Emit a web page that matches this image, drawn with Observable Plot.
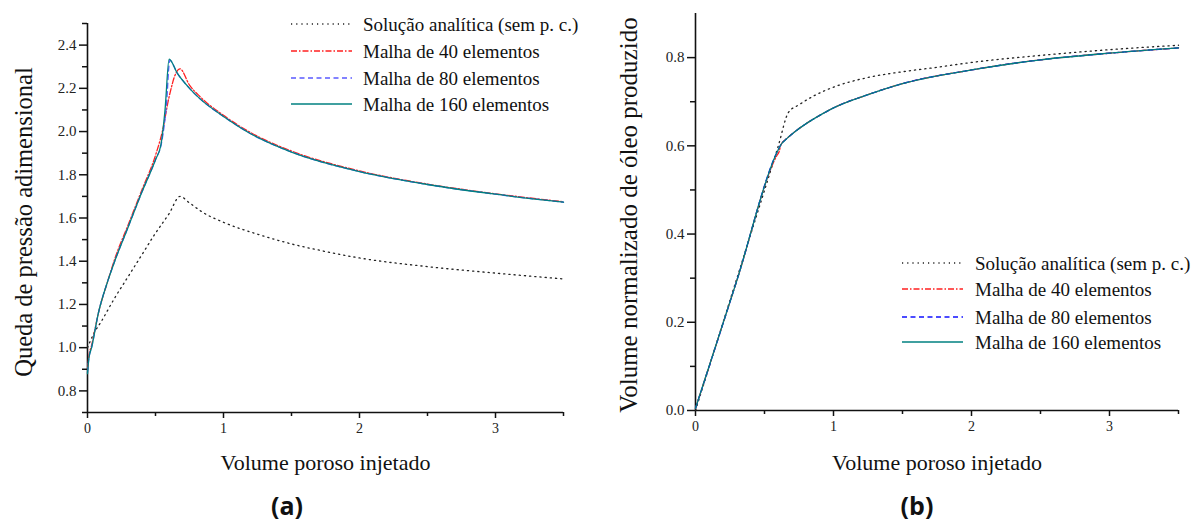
<!DOCTYPE html>
<html><head><meta charset="utf-8">
<script src="https://cdn.jsdelivr.net/npm/d3@7"></script>
<script src="https://cdn.jsdelivr.net/npm/@observablehq/plot@0.6"></script>
<style>
body{margin:0;background:#fff;}
#wrap{position:relative;width:1193px;height:526px;overflow:hidden;}
.panel{position:absolute;top:0;}
.cap{position:absolute;font-family:"Open Sans","Liberation Sans",sans-serif;font-weight:bold;font-size:25px;transform:translateX(-50%);top:488px;color:#111;}
</style></head><body><div id="wrap"></div>
<script>
// ---- series labels & styles ----
const seriesNames = ["Solução analítica (sem p. c.)", "Malha de 40 elementos", "Malha de 80 elementos", "Malha de 160 elementos"];
const seriesColorsA = ["#222222", "#ff2020", "#5a5aff", "#008080"];
const seriesColorsB = ["#222222", "#ff2020", "#1010ff", "#008080"];
const seriesDash = ["1.2,4", "6,2,1.5,2", "5,3.5", null];

// ---- axis ticks ----
const xMajor = [0, 1, 2, 3];
const xMinor = [0.5, 1.5, 2.5, 3.5];
const yMajorA = [0.8, 1.0, 1.2, 1.4, 1.6, 1.8, 2.0, 2.2, 2.4];
const yMinorA = [0.7, 0.9, 1.1, 1.3, 1.5, 1.7, 1.9, 2.1, 2.3, 2.5];
const yMajorB = [0.0, 0.2, 0.4, 0.6, 0.8];
const yMinorB = [0.1, 0.3, 0.5, 0.7];

// ---- (a) pressure drop ----
const pAnaX = [0, 0.05, 0.1, 0.2, 0.3, 0.4, 0.5, 0.6, 0.68, 0.75, 0.85, 1.0, 1.25, 1.5, 1.75, 2.0, 2.5, 3.0, 3.5];
const pAnaY = [1.0, 1.07, 1.12, 1.23, 1.33, 1.43, 1.53, 1.62, 1.70, 1.67, 1.625, 1.58, 1.525, 1.48, 1.445, 1.415, 1.375, 1.345, 1.318];
const p40X = [0, 0.01, 0.03, 0.08, 0.15, 0.2, 0.3, 0.4, 0.5, 0.55, 0.6, 0.65, 0.68, 0.75, 0.83, 1.0, 1.2, 1.5, 2.0, 2.5, 3.0, 3.5];
const p40Y = [0.9, 0.96, 1.01, 1.16, 1.31, 1.41, 1.57, 1.73, 1.89, 2.0, 2.16, 2.27, 2.29, 2.215, 2.16, 2.075, 1.995, 1.91, 1.818, 1.757, 1.712, 1.675];
const p80X = [0, 0.01, 0.03, 0.08, 0.15, 0.2, 0.3, 0.4, 0.5, 0.545, 0.58, 0.605, 0.66, 0.75, 0.83, 1.0, 1.2, 1.5, 2.0, 2.5, 3.0, 3.5];
const p80Y = [0.885, 0.95, 1.0, 1.16, 1.31, 1.4, 1.56, 1.72, 1.87, 1.95, 2.12, 2.33, 2.27, 2.2, 2.15, 2.07, 1.99, 1.905, 1.815, 1.755, 1.71, 1.673];
const p160X = [0, 0.01, 0.03, 0.08, 0.15, 0.2, 0.3, 0.4, 0.5, 0.54, 0.57, 0.6, 0.66, 0.75, 0.83, 1.0, 1.2, 1.5, 2.0, 2.5, 3.0, 3.5];
const p160Y = [0.88, 0.95, 1.0, 1.16, 1.31, 1.4, 1.56, 1.72, 1.87, 1.94, 2.1, 2.335, 2.27, 2.2, 2.15, 2.07, 1.99, 1.905, 1.815, 1.755, 1.71, 1.673];

// ---- (b) normalized oil produced ----
const oAnaX = [0, 0.3, 0.6, 0.674, 0.75, 0.85, 1.0, 1.25, 1.5, 1.75, 2.0, 2.5, 3.0, 3.5];
const oAnaY = [0, 0.3, 0.6, 0.676, 0.693, 0.712, 0.733, 0.755, 0.768, 0.778, 0.789, 0.805, 0.818, 0.828];
const o40X = [0, 0.3, 0.59, 0.605, 0.62, 0.667, 0.72, 0.81, 0.9, 1.0, 1.25, 1.5, 2.0, 2.5, 3.0, 3.5];
const o40Y = [0.005, 0.295, 0.578, 0.586, 0.603, 0.618, 0.632, 0.652, 0.669, 0.686, 0.716, 0.741, 0.772, 0.795, 0.81, 0.822];
const o80X = [0, 0.3, 0.59, 0.62, 0.667, 0.72, 0.81, 0.9, 1.0, 1.25, 1.5, 2.0, 2.5, 3.0, 3.5];
const o80Y = [0.005, 0.295, 0.585, 0.603, 0.618, 0.632, 0.652, 0.669, 0.686, 0.716, 0.741, 0.772, 0.795, 0.81, 0.822];
const o160X = [0, 0.3, 0.59, 0.62, 0.667, 0.72, 0.81, 0.9, 1.0, 1.25, 1.5, 2.0, 2.5, 3.0, 3.5];
const o160Y = [0.005, 0.295, 0.585, 0.603, 0.618, 0.632, 0.652, 0.669, 0.686, 0.716, 0.741, 0.772, 0.795, 0.81, 0.822];

const rows = (xs, ys) => xs.map((x, i) => ({x, y: ys[i]}));
const serif = "'Liberation Serif', 'DejaVu Serif', serif";

function panel(opts) {
  const {width, height, mL, mR, mT, mB, yDomain, yMajor, yMinor, series, colors, xTitle, yTitle, xTitleDy, yTitleDx, yTitleDy, yTitleSize, legend} = opts;
  const lines = series.map((s, i) => Plot.line(s, {
    x: "x", y: "y", stroke: colors[i], strokeWidth: 1.3,
    strokeDasharray: seriesDash[i] || undefined, curve: "monotone-x"
  }));
  const svg = Plot.plot({
    width, height, marginLeft: mL, marginRight: mR, marginTop: mT, marginBottom: mB,
    style: {fontFamily: serif, background: "#fff", color: "#222", overflow: "visible"},
    x: {domain: [0, 3.5]},
    y: {domain: yDomain},
    marks: [
      Plot.axisX({ticks: xMinor, tickSize: 4, tickFormat: () => "", label: null, strokeWidth: 1.5, stroke: "#111"}),
      Plot.axisX({ticks: xMajor, tickSize: 6, tickPadding: 5, fontSize: 14, tickFormat: d => String(d), label: null, strokeWidth: 1.5, stroke: "#111", fill: "#222"}),
      Plot.axisY({ticks: yMinor, tickSize: 5, tickFormat: () => "", label: null, strokeWidth: 1.5, stroke: "#111"}),
      Plot.axisY({ticks: yMajor, tickSize: 8, tickPadding: 3, fontSize: 15, tickFormat: d3.format(".1f"), label: null, strokeWidth: 1.5, stroke: "#111", fill: "#222"}),
      Plot.ruleX([0], {stroke: "#111", strokeWidth: 1.6}),
      Plot.ruleY([yDomain[0]], {stroke: "#111", strokeWidth: 1.6}),
      ...lines,
      Plot.text([xTitle], {text: d => d, frameAnchor: "bottom", dy: xTitleDy, fontSize: 22, lineAnchor: "middle", fill: "#111"}),
      Plot.text([yTitle], {text: d => d, frameAnchor: "left", rotate: -90, dx: yTitleDx, dy: yTitleDy, fontSize: yTitleSize, lineAnchor: "middle", textAnchor: "middle", fill: "#111"})
    ]
  });
  // legend
  const g = d3.select(svg).append("g").attr("font-family", serif).attr("font-size", 19).attr("text-anchor", "start");
  seriesNames.forEach((name, i) => {
    const yy = legend.rows[i];
    g.append("line").attr("x1", legend.x1).attr("x2", legend.x2).attr("y1", yy).attr("y2", yy)
      .attr("stroke", colors[i]).attr("stroke-width", 1.3)
      .attr("stroke-dasharray", seriesDash[i]);
    g.append("text").attr("x", legend.tx).attr("y", yy).attr("dy", "0.35em").attr("text-anchor", "start").attr("fill", "#111").text(name);
  });
  return svg;
}

const wrap = document.getElementById("wrap");

const svgA = panel({
  width: 596, height: 480, mL: 87, mR: 33, mT: 23, mB: 68,
  yDomain: [0.7, 2.5], yMajor: yMajorA, yMinor: yMinorA,
  series: [rows(pAnaX, pAnaY), rows(p40X, p40Y), rows(p80X, p80Y), rows(p160X, p160Y)],
  colors: seriesColorsA,
  xTitle: "Volume poroso injetado", yTitle: "Queda de pressão adimensional",
  xTitleDy: 50, yTitleDx: -63, yTitleDy: 4, yTitleSize: 24.5,
  legend: {x1: 291, x2: 352, tx: 363, rows: [24, 51, 78, 104]}
});
const dA = document.createElement("div"); dA.className = "panel"; dA.style.left = "0px"; dA.appendChild(svgA); wrap.appendChild(dA);

const svgB = panel({
  width: 597, height: 480, mL: 99, mR: 15, mT: 13, mB: 70,
  yDomain: [0, 0.9], yMajor: yMajorB, yMinor: yMinorB,
  series: [rows(oAnaX, oAnaY), rows(o40X, o40Y), rows(o80X, o80Y), rows(o160X, o160Y)],
  colors: seriesColorsB,
  xTitle: "Volume poroso injetado", yTitle: "Volume normalizado de óleo produzido",
  xTitleDy: 52, yTitleDx: -67, yTitleDy: 3, yTitleSize: 25,
  legend: {x1: 306, x2: 367, tx: 379, rows: [263, 289, 317, 342]}
});
const dB = document.createElement("div"); dB.className = "panel"; dB.style.left = "596px"; dB.appendChild(svgB); wrap.appendChild(dB);

const capA = document.createElement("div"); capA.className = "cap"; capA.style.left = "287px"; capA.textContent = "(a)"; wrap.appendChild(capA);
const capB = document.createElement("div"); capB.className = "cap"; capB.style.left = "917px"; capB.textContent = "(b)"; wrap.appendChild(capB);
</script></body></html>
